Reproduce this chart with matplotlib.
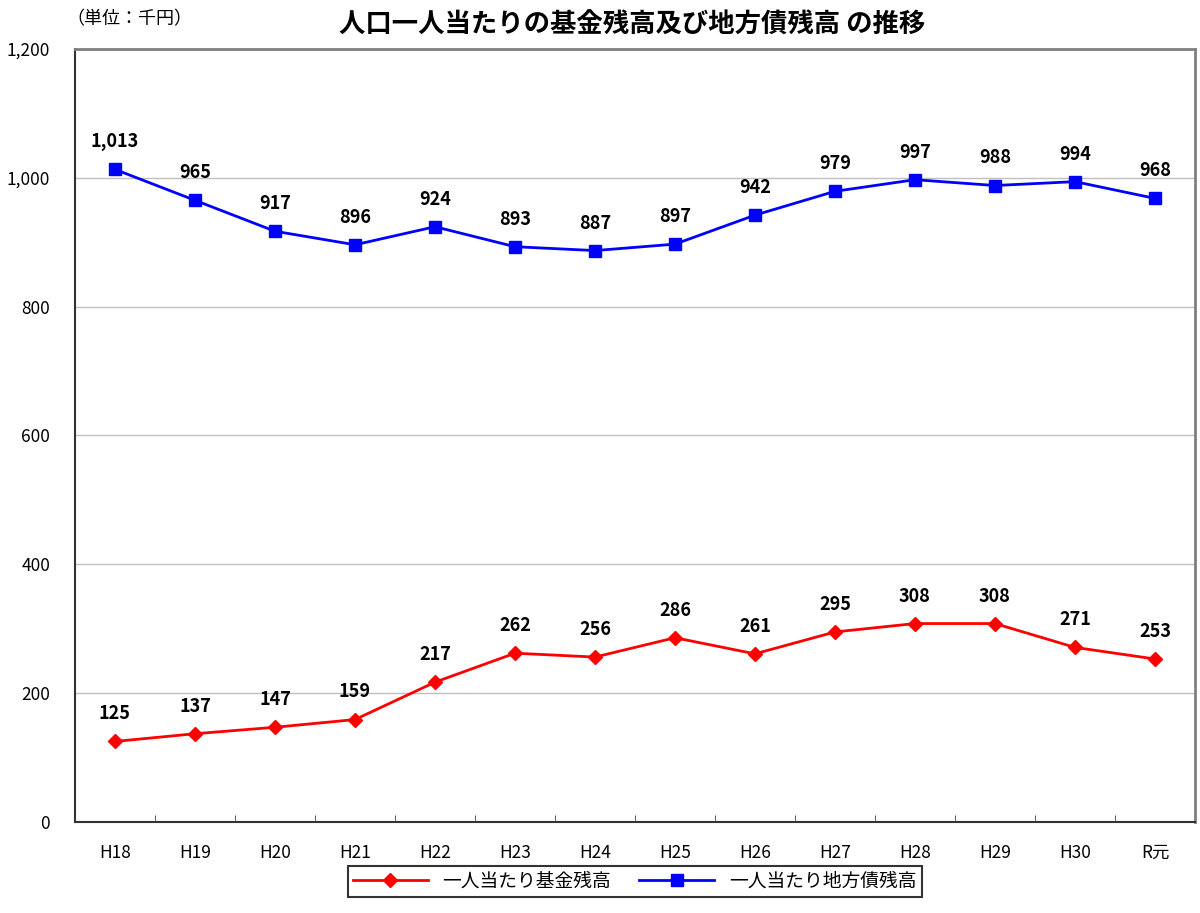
import matplotlib
matplotlib.use("Agg")
import matplotlib.pyplot as plt
from matplotlib.ticker import FixedLocator, FuncFormatter

plt.rcParams['font.family'] = ['Noto Sans CJK JP', 'DejaVu Sans']

years = ["H18", "H19", "H20", "H21", "H22", "H23", "H24", "H25", "H26", "H27", "H28", "H29", "H30", "R元"]
fund = [125, 137, 147, 159, 217, 262, 256, 286, 261, 295, 308, 308, 271, 253]
debt = [1013, 965, 917, 896, 924, 893, 887, 897, 942, 979, 997, 988, 994, 968]

fig = plt.figure(figsize=(12, 9.13), dpi=100)
ax = fig.add_axes([0.0625, 0.0997, 0.9333, 0.8467])

x = list(range(len(years)))
ax.plot(x, fund, color='#ff0000', marker='D', markersize=7, linewidth=2, label="一人当たり基金残高")
ax.plot(x, debt, color='#0000ff', marker='s', markersize=9, linewidth=2, label="一人当たり地方債残高")

for xi, v in zip(x, fund):
    ax.annotate(f"{v:,}", (xi, v), xytext=(0, 13), textcoords='offset points',
                ha='center', va='bottom', fontsize=13, fontweight='bold')
for xi, v in zip(x, debt):
    ax.annotate(f"{v:,}", (xi, v), xytext=(0, 13), textcoords='offset points',
                ha='center', va='bottom', fontsize=13, fontweight='bold')

ax.set_xlim(-0.5, len(years) - 0.5)
ax.set_ylim(0, 1200)
ax.set_yticks(range(0, 1201, 200))
ax.yaxis.set_major_formatter(FuncFormatter(lambda v, p: f"{int(v):,}"))
ax.tick_params(axis='y', length=0, labelsize=12.5, pad=18)
ax.set_xticks(x)
ax.set_xticklabels(years)
ax.tick_params(axis='x', which='major', length=0, labelsize=12.5, pad=16)
ax.xaxis.set_minor_locator(FixedLocator([i + 0.5 for i in range(len(years) - 1)]))
ax.tick_params(axis='x', which='minor', direction='in', length=5, color='#444444')

ax.grid(axis='y', color='#c0c0c0', linewidth=1)
ax.set_axisbelow(True)
ax.spines['left'].set_color('#333333')
ax.spines['bottom'].set_color('#333333')
ax.spines['left'].set_linewidth(1.5)
ax.spines['bottom'].set_linewidth(1.5)
ax.spines['top'].set_color('#808080')
ax.spines['right'].set_color('#808080')
ax.spines['top'].set_linewidth(2)
ax.spines['right'].set_linewidth(2)

fig.text(0.527, 0.972, "人口一人当たりの基金残高及び地方債残高 の推移", ha='center', va='center',
         fontsize=19, fontweight='bold')
fig.text(0.055, 0.979, "（単位：千円）", ha='left', va='center', fontsize=13)

leg = fig.legend(loc='center', bbox_to_anchor=(0.529, 0.0345), ncol=2, fontsize=13.5,
                 frameon=True, fancybox=False, edgecolor='black', handlelength=4,
                 columnspacing=1.5, borderpad=0.25)
leg.get_frame().set_linewidth(1.5)

fig.savefig("out.png", dpi=100)
